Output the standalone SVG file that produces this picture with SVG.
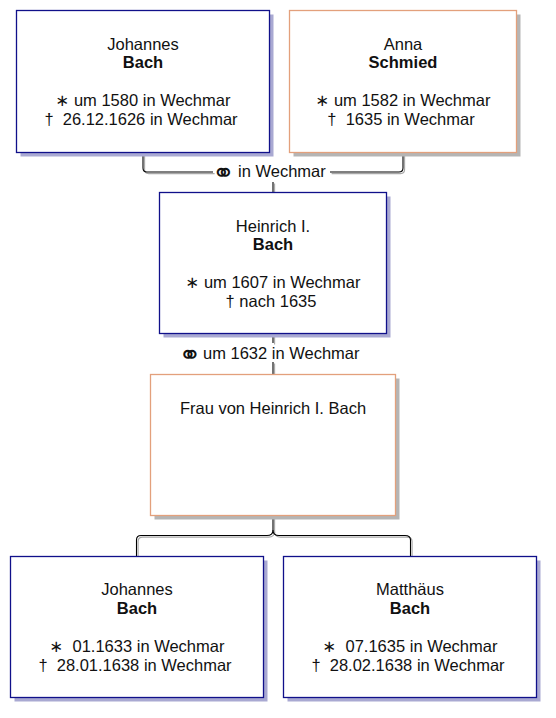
<svg xmlns="http://www.w3.org/2000/svg" width="556" height="718" viewBox="0 0 556 718">
<style>
.bg{fill:#ffffff}
.m{fill:#ffffff;stroke:#10108a;stroke-width:1.3}
.f{fill:#ffffff;stroke:#e3a07c;stroke-width:1.3}
.sm{fill:#a9a9d2}
.sf{fill:#b5b5b5}
text{font-family:"Liberation Sans","DejaVu Sans",Arial,sans-serif;font-size:16.5px;fill:#111111;text-anchor:middle;white-space:pre}
.b{font-weight:bold}
.lbl{text-anchor:start}
.sym{font-family:"DejaVu Sans",sans-serif;font-size:27px;font-weight:normal}
.c1{fill:none;stroke:#000000;stroke-width:1.1}
.c2{fill:none;stroke:#a8a8a8;stroke-width:1.1}
</style>
<rect class="bg" x="0" y="0" width="556" height="718"/>
<g id="connectors">
  <g transform="translate(1.6,1.6)">
    <path class="c2" d="M143 153 V168 Q143 172 147 172 H213"/>
    <path class="c2" d="M330 172 H399 Q403 172 403 168 V153"/>
    <path class="c2" d="M273 182 V192"/>
    <path class="c2" d="M273 334 V343"/>
    <path class="c2" d="M273 362 V374"/>
    <path class="c2" d="M273 516 V530 Q273 535.5 267 535.5 H141 Q136.5 535.5 136.5 540 V556"/>
    <path class="c2" d="M273 530 Q273 535.5 279 535.5 H405 Q410.5 535.5 410.5 540 V556"/>
  </g>
  <path class="c1" d="M143 153 V168 Q143 172 147 172 H213"/>
  <path class="c1" d="M330 172 H399 Q403 172 403 168 V153"/>
  <path class="c1" d="M273 182 V192"/>
  <path class="c1" d="M273 334 V343"/>
  <path class="c1" d="M273 362 V374"/>
  <path class="c1" d="M273 516 V530 Q273 535.5 267 535.5 H141 Q136.5 535.5 136.5 540 V556"/>
  <path class="c1" d="M273 530 Q273 535.5 279 535.5 H405 Q410.5 535.5 410.5 540 V556"/>
  <text class="lbl" y="177"><tspan class="sym" x="212" y="181.5">⚭</tspan><tspan x="238" y="177">in Wechmar</tspan></text>
  <text class="lbl" y="358.5"><tspan class="sym" x="178.5" y="363.5">⚭</tspan><tspan x="203" y="358.5">um 1632 in Wechmar</tspan></text>
</g>
<g id="johannes1">
  <rect class="sm" x="20.5" y="14.5" width="253" height="142"/>
  <rect class="m" x="16.5" y="10.5" width="253" height="142"/>
  <text x="143" y="49.5">Johannes</text>
  <text x="143" y="68" class="b">Bach</text>
  <text x="143" y="106">∗ um 1580 in Wechmar</text>
  <text x="141" y="125" xml:space="preserve">†  26.12.1626 in Wechmar</text>
</g>
<g id="anna">
  <rect class="sf" x="293.5" y="14.5" width="227" height="142"/>
  <rect class="f" x="289.5" y="10.5" width="227" height="142"/>
  <text x="403" y="49.5">Anna</text>
  <text x="403" y="68" class="b">Schmied</text>
  <text x="403" y="106">∗ um 1582 in Wechmar</text>
  <text x="401" y="125" xml:space="preserve">†  1635 in Wechmar</text>
</g>
<g id="heinrich">
  <rect class="sm" x="163.5" y="196.5" width="227" height="141"/>
  <rect class="m" x="159.5" y="192.5" width="227" height="141"/>
  <text x="273" y="231.5">Heinrich I.</text>
  <text x="273" y="250" class="b">Bach</text>
  <text x="273" y="288">∗ um 1607 in Wechmar</text>
  <text x="271" y="307">† nach 1635</text>
</g>
<g id="frau">
  <rect class="sf" x="154.5" y="378.5" width="245" height="141"/>
  <rect class="f" x="150.5" y="374.5" width="245" height="141"/>
  <text x="273" y="413.5">Frau von Heinrich I. Bach</text>
</g>
<g id="johannes2">
  <rect class="sm" x="14.5" y="560.5" width="253" height="141"/>
  <rect class="m" x="10.5" y="556.5" width="253" height="141"/>
  <text x="137" y="595">Johannes</text>
  <text x="137" y="614" class="b">Bach</text>
  <text x="137" y="652" xml:space="preserve">∗  01.1633 in Wechmar</text>
  <text x="135" y="671" xml:space="preserve">†  28.01.1638 in Wechmar</text>
</g>
<g id="matthaeus">
  <rect class="sm" x="287.5" y="560.5" width="253" height="141"/>
  <rect class="m" x="283.5" y="556.5" width="253" height="141"/>
  <text x="410" y="595">Matthäus</text>
  <text x="410" y="614" class="b">Bach</text>
  <text x="410" y="652" xml:space="preserve">∗  07.1635 in Wechmar</text>
  <text x="408" y="671" xml:space="preserve">†  28.02.1638 in Wechmar</text>
</g>
</svg>
